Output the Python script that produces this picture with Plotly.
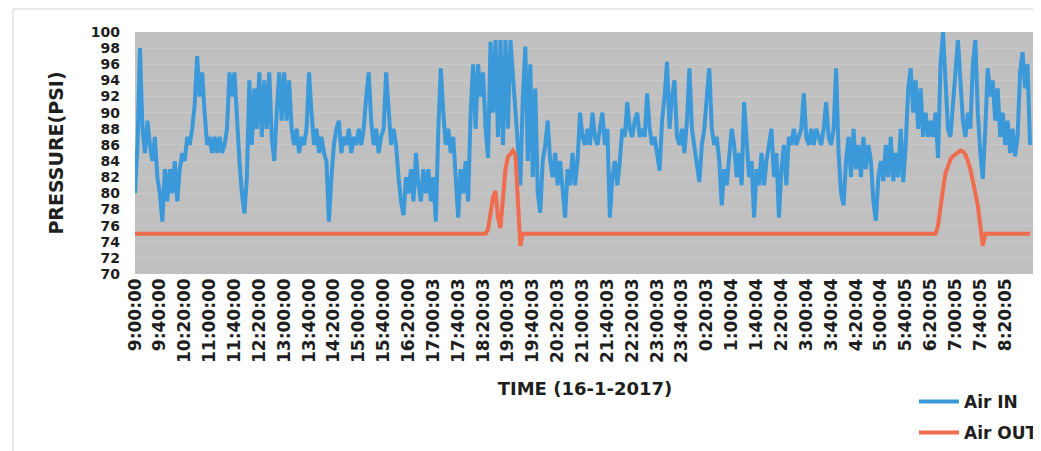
import plotly.graph_objects as go

# sample every 4 minutes, 15 samples per hour, starting 9:00:00 on 16-1-2017
step_min = 4

air_in = [
    80, 86, 98, 88, 85, 89, 86, 84, 87, 82, 80, 76.5, 83, 79, 83,      # 9h
    80, 84, 79, 83, 85, 84, 87, 86, 88, 91, 97, 92, 95, 90, 86,        # 10h
    87, 85, 87, 85, 87, 85, 86, 88, 95, 92, 95, 89, 84, 80, 77.5,      # 11h
    82, 94, 86, 93, 88, 95, 87, 94, 88, 95, 87, 84, 90, 95, 89,        # 12h
    95, 89, 94, 88, 86, 88, 85, 87, 86, 88, 95, 90, 86, 88, 85,        # 13h
    87, 85, 84, 76.5, 82, 86, 88, 89, 85, 87, 86, 88, 85, 87, 86,      # 14h
    88, 86, 88, 92, 95, 89, 86, 88, 85, 87, 88, 95, 90, 86, 88,        # 15h
    86, 82, 79, 77.3, 82, 80, 83, 79, 85, 81, 79, 83, 80, 83, 79,      # 16h
    82, 76.5, 88, 95.5, 90, 86, 88, 85, 87, 82, 77, 83, 80, 84, 79,    # 17h
    90, 96, 88, 96, 92, 95, 88, 84.4, 98.8, 90, 99, 87, 99, 86, 99,    # 18h
    88, 99, 95, 90, 86, 81, 92, 98.2, 84, 96, 82, 93, 80, 77.6, 84,    # 19h
    86, 89, 84, 82, 85, 81, 84, 80, 77, 83, 81, 85, 81, 84, 90,        # 20h
    87, 86, 88, 86, 90, 87, 86, 88, 90, 86, 88, 77, 82, 84, 81,        # 21h
    84, 88, 87, 91.3, 88, 87, 89, 90, 87, 88, 87, 92.4, 88, 86, 87,    # 22h
    85, 82.8, 89, 92, 96.3, 88, 92, 94, 87, 86, 88, 85, 89, 95.5, 88,  # 23h
    86, 84, 81.4, 86, 88, 92, 95.5, 88, 86, 87, 84, 78.5, 83, 81, 85,  # 0h
    88, 86, 82, 85, 81, 91.3, 86, 82, 84, 77, 83, 81, 85, 81, 84,      # 1h
    86, 88, 82, 85, 77, 83, 86, 81, 87, 86, 88, 86, 87, 88, 92.4,      # 2h
    87, 86, 88, 86, 88, 87, 86, 88, 91.3, 87, 86, 88, 95.5, 85, 80,    # 3h
    78.5, 84, 87, 82, 88, 83, 86, 82, 87, 83, 86, 84, 79, 76.6, 82,    # 4h
    84, 81.5, 86, 82, 87, 81.5, 85, 82, 88, 81.4, 86, 93, 95.5, 90, 94,  # 5h
    88, 93, 87, 90, 87, 89, 87, 90, 84.4, 96, 100, 93, 88, 87, 92,     # 6h
    95, 99, 93, 89, 87, 90, 88, 96, 99, 90, 85, 81.8, 88, 95.5, 92,    # 7h
    94, 89, 93, 87, 90, 86, 89, 85, 88, 84.6, 87, 95, 97.5, 93, 96,    # 8h
    86,
]

air_out = [
    75, 75, 75, 75, 75, 75, 75, 75, 75, 75, 75, 75, 75, 75, 75,        # 9h
    75, 75, 75, 75, 75, 75, 75, 75, 75, 75, 75, 75, 75, 75, 75,        # 10h
    75, 75, 75, 75, 75, 75, 75, 75, 75, 75, 75, 75, 75, 75, 75,        # 11h
    75, 75, 75, 75, 75, 75, 75, 75, 75, 75, 75, 75, 75, 75, 75,        # 12h
    75, 75, 75, 75, 75, 75, 75, 75, 75, 75, 75, 75, 75, 75, 75,        # 13h
    75, 75, 75, 75, 75, 75, 75, 75, 75, 75, 75, 75, 75, 75, 75,        # 14h
    75, 75, 75, 75, 75, 75, 75, 75, 75, 75, 75, 75, 75, 75, 75,        # 15h
    75, 75, 75, 75, 75, 75, 75, 75, 75, 75, 75, 75, 75, 75, 75,        # 16h
    75, 75, 75, 75, 75, 75, 75, 75, 75, 75, 75, 75, 75, 75, 75,        # 17h
    75, 75, 75, 75, 75, 75, 75, 75.5, 77.5, 79.5, 80.3, 77, 75.7, 79, 83,  # 18h
    84.5, 85, 85.3, 84.8, 80, 73.5, 75, 75, 75, 75, 75, 75, 75, 75, 75,    # 19h
    75, 75, 75, 75, 75, 75, 75, 75, 75, 75, 75, 75, 75, 75, 75,        # 20h
    75, 75, 75, 75, 75, 75, 75, 75, 75, 75, 75, 75, 75, 75, 75,        # 21h
    75, 75, 75, 75, 75, 75, 75, 75, 75, 75, 75, 75, 75, 75, 75,        # 22h
    75, 75, 75, 75, 75, 75, 75, 75, 75, 75, 75, 75, 75, 75, 75,        # 23h
    75, 75, 75, 75, 75, 75, 75, 75, 75, 75, 75, 75, 75, 75, 75,        # 0h
    75, 75, 75, 75, 75, 75, 75, 75, 75, 75, 75, 75, 75, 75, 75,        # 1h
    75, 75, 75, 75, 75, 75, 75, 75, 75, 75, 75, 75, 75, 75, 75,        # 2h
    75, 75, 75, 75, 75, 75, 75, 75, 75, 75, 75, 75, 75, 75, 75,        # 3h
    75, 75, 75, 75, 75, 75, 75, 75, 75, 75, 75, 75, 75, 75, 75,        # 4h
    75, 75, 75, 75, 75, 75, 75, 75, 75, 75, 75, 75, 75, 75, 75,        # 5h
    75, 75, 75, 75, 75, 75, 75, 75, 76, 78.5, 80.5, 82.5, 83.5, 84.2, 84.6,  # 6h
    84.8, 85.1, 85.3, 85.2, 84.8, 84, 83, 81.5, 80, 78.5, 76, 73.5, 75, 75, 75,  # 7h
    75, 75, 75, 75, 75, 75, 75, 75, 75, 75, 75, 75, 75, 75, 75,        # 8h
    75,
]

tick_labels = [
    "9:00:00", "9:40:00", "10:20:00", "11:00:00", "11:40:00", "12:20:00",
    "13:00:00", "13:40:00", "14:20:00", "15:00:00", "15:40:00", "16:20:00",
    "17:00:03", "17:40:03", "18:20:03", "19:00:03", "19:40:03", "20:20:03",
    "21:00:03", "21:40:03", "22:20:03", "23:00:03", "23:40:03", "0:20:03",
    "1:00:04", "1:40:04", "2:20:04", "3:00:04", "3:40:04", "4:20:04",
    "5:00:04", "5:40:05", "6:20:05", "7:00:05", "7:40:05", "8:20:05",
]
tick_every_min = 40

minutes = [i * step_min for i in range(len(air_in))]
tick_pos = [i * tick_every_min for i in range(len(tick_labels))]

FONT = "DejaVu Sans"
TXT = "#1e1e1e"

# plot area in figure pixels (page body adds an 8px offset on screen)
OFF = 8
L, R, T, B = 135 - OFF, 1035 - OFF, 32 - OFF, 274 - OFF
PW, PH = R - L, B - T


def px(x):
    return (x - OFF - L) / PW


def py(y):
    return (B - (y - OFF)) / PH


fig = go.Figure()
fig.add_trace(go.Scatter(
    x=minutes, y=air_in, mode="lines", name="Air IN", showlegend=True,
    line=dict(color="#3b99d9", width=4), legend="legend"
))
fig.add_trace(go.Scatter(
    x=minutes, y=air_out, mode="lines", name="Air OUT", showlegend=True,
    line=dict(color="#f06c4e", width=4), legend="legend2"
))

legend_common = dict(
    xanchor="left", yanchor="middle", bgcolor="rgba(0,0,0,0)",
    font=dict(family=FONT, size=17, color=TXT, weight="bold"),
    itemwidth=40, visible=True,
)

fig.update_layout(
    width=1041, height=451,
    margin=dict(l=L, r=1041 - R, t=T, b=451 - B, autoexpand=False),
    paper_bgcolor="white",
    plot_bgcolor="#c0c0c0",
    showlegend=True,
    font=dict(family=FONT, color=TXT),
    legend=dict(x=px(914), y=py(402), **legend_common),
    legend2=dict(x=px(914), y=py(433), **legend_common),
    xaxis=dict(
        range=[0, 1448], automargin=False,
        tickmode="array", tickvals=tick_pos, ticktext=tick_labels,
        tickangle=-90,
        tickfont=dict(family=FONT, size=17, color=TXT, weight="bold"),
        showgrid=False, zeroline=False, showline=False,
        title=dict(text="TIME (16-1-2017)", standoff=20,
                   font=dict(family=FONT, size=18, color=TXT, weight="bold")),
    ),
    yaxis=dict(
        range=[70, 100], automargin=False,
        tickmode="array", tickvals=list(range(70, 101, 2)),
        tickfont=dict(family=FONT, size=14, color=TXT, weight="bold"),
        ticklabelstandoff=14,
        showgrid=True, gridcolor="#c8c8c8", gridwidth=1,
        zeroline=False, showline=False,
        title=dict(text="PRESSURE(PSI)", standoff=22,
                   font=dict(family=FONT, size=19, color=TXT, weight="bold")),
    ),
    shapes=[
        dict(type="line", xref="paper", yref="paper",
             x0=px(13), x1=px(1045), y0=py(9), y1=py(9),
             line=dict(color="#e2e2e2", width=1.5)),
        dict(type="line", xref="paper", yref="paper",
             x0=px(13), x1=px(13), y0=py(456), y1=py(9),
             line=dict(color="#e2e2e2", width=1.5)),
    ],
)

fig.write_html("out.html")
